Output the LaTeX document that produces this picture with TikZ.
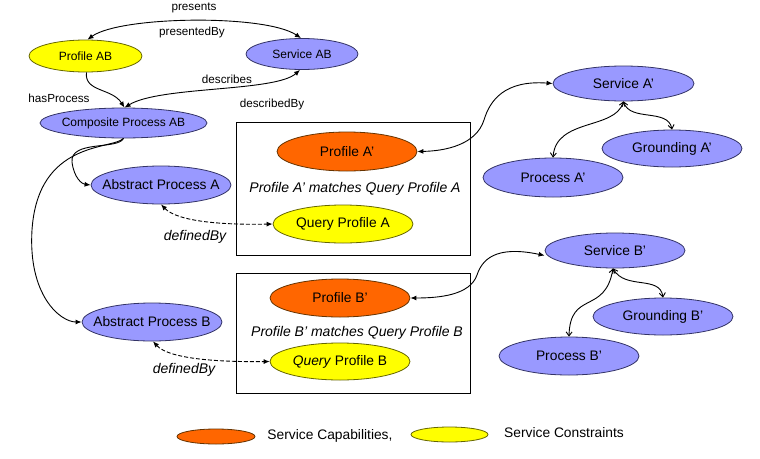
\documentclass[tikz,border=0pt]{standalone}
\usepackage{fontspec}
\setmainfont{Liberation Sans}
\usetikzlibrary{shapes.geometric,arrows.meta}
\definecolor{lav}{HTML}{9999FF}
\definecolor{lavd}{HTML}{333366}
\definecolor{yel}{HTML}{FFFF00}
\definecolor{yeld}{HTML}{666600}
\definecolor{org}{HTML}{FF6600}
\definecolor{orgd}{HTML}{663300}
\newcommand\mkt[1]{\makebox[0pt]{#1}}
\tikzset{
  el/.style={ellipse,inner sep=0pt,minimum width=140pt,minimum height=38pt,font=\fontsize{13.8}{15}\selectfont},
  blue/.style={el,fill=lav,draw=lavd,line width=0.8pt},
  yellow/.style={el,fill=yel,draw=yeld,line width=0.8pt},
  orange/.style={el,fill=org,draw=orgd,line width=0.8pt},
  small/.style={font=\fontsize{12}{14}\selectfont},
  lbl/.style={font=\fontsize{11.7}{13}\selectfont,inner sep=0pt},
  ilbl/.style={font=\fontsize{14}{16}\selectfont\itshape,inner sep=0pt},
  conn/.style={line width=0.9pt,{Latex[length=6pt,width=5pt]}-{Latex[length=6pt,width=5pt]}},
  oneway/.style={line width=0.9pt,-{Latex[length=6pt,width=5pt]}},
  openconn/.style={line width=0.9pt,{Straight Barb[length=4pt,width=6pt]}-{Straight Barb[length=4pt,width=6pt]}},
  dashconn/.style={conn,dashed,dash pattern=on 4pt off 2pt},
  frame/.style={draw,line width=0.8pt}
}
\begin{document}
\begin{tikzpicture}[x=1pt,y=-1pt]
\useasboundingbox (0,0) rectangle (760,458);
% frames
\node[frame,minimum width=234pt,minimum height=133pt,inner sep=0pt] (boxa) at (353,188.5) {};
\node[frame,minimum width=234pt,minimum height=120pt,inner sep=0pt] (boxb) at (353,333) {};
% top-left nodes
\node[yellow,small,minimum width=113pt,minimum height=32pt] (pab) at (85.5,56) {\mkt{Profile AB}};
\node[blue,small,minimum width=112pt,minimum height=31pt] (sab) at (302,54) {\mkt{Service AB}};
\node[blue,small,minimum width=167pt,minimum height=30pt] (cpab) at (123.5,123) {\mkt{Composite Process AB}};
\node[blue] (apa) at (161,185) {\mkt{Abstract Process A}};
\node[blue] (apb) at (152,322) {\mkt{Abstract Process B}};
% box A
\node[orange,minimum height=39pt] (pap) at (347,151.5) {\mkt{Profile A’}};
\node[ilbl] (ma) at (355,189) {Profile A’ matches Query Profile A};
\node[yellow] (qpa) at (343,224) {\mkt{Query Profile A}};
% box B
\node[orange] (pbp) at (340,298) {\mkt{Profile B’}};
\node[ilbl] (mb) at (357,333) {Profile B’ matches Query Profile B};
\node[yellow,minimum height=37pt] (qpb) at (340,361.5) {\mkt{\textit{Query} Profile B}};
% right side
\node[blue,minimum width=141pt,minimum height=35pt] (sap) at (623.5,83.5) {\mkt{Service A’}};
\node[blue,minimum height=37pt] (gap) at (672,148.5) {\mkt{Grounding A’}};
\node[blue,minimum height=39pt] (prap) at (553,177.5) {\mkt{Process A’}};
\node[blue,minimum height=35pt] (sbp) at (615,250.5) {\mkt{Service B’}};
\node[blue,minimum height=37pt] (gbp) at (663,316.5) {\mkt{Grounding B’}};
\node[blue] (prbp) at (569,356) {\mkt{Process B’}};
% labels
\node[lbl] (lpres) at (194,8) {presents};
\node[lbl] (lpresby) at (192,32) {presentedBy};
\node[lbl] (ldesc) at (227,79) {describes};
\node[lbl] (ldescby) at (272,104) {describedBy};
\node[lbl] (lhas) at (59,98) {hasProcess};
\node[ilbl] (ldefa) at (195,237) {definedBy};
\node[ilbl] (ldefb) at (184,370) {definedBy};
% legend
\node[orange,minimum width=78pt,minimum height=15pt] (lgo) at (216,436.5) {};
\node[font=\fontsize{13.8}{15}\selectfont,inner sep=0pt] (lgot) at (330,436) {Service Capabilities,};
\node[yellow,minimum width=77pt,minimum height=15pt] (lgy) at (449.5,434.5) {};
\node[font=\fontsize{13.8}{15}\selectfont,inner sep=0pt] (lgyt) at (564,433) {Service Constraints};
% connectors top-left
\draw[conn] ([xshift=2pt]pab.north) .. controls (120,16) and (265,14) .. ([xshift=-1pt]sab.north);
\draw[conn] ([xshift=-2pt]sab.south) .. controls (275,92) and (160,86) .. ([xshift=1pt]cpab.north);
\draw[oneway] ([xshift=1pt]pab.south) .. controls (84,92) and (112,88) .. ([xshift=1pt]cpab.north);
\draw[oneway] (cpab.south) .. controls (118,150) and (70,140) .. (72,162) .. controls (74,178) and (82,184) .. (apa.west);
\draw[oneway] (cpab.south) .. controls (112,150) and (38,140) .. (32,230) .. controls (28,295) and (60,322) .. (apb.west);
\draw[dashconn] (apa.south) .. controls (178,222) and (225,225) .. (qpa.west);
\draw[dashconn] ([xshift=1pt]apb.south) .. controls (170,360) and (225,362) .. (qpb.west);
% right side connectors
\draw[conn] (sap.west) .. controls (505,80) and (490,100) .. (484,120) .. controls (476,145) and (445,151) .. (pap.east);
\draw[conn] ([yshift=-5pt]sbp.west) .. controls (495,245) and (482,260) .. (477,275) .. controls (470,295) and (440,298) .. (pbp.east);
\draw[openconn] (sap.south) .. controls (615,130) and (556,118) .. (prap.north);
\draw[openconn] (sap.south) .. controls (630,122) and (668,108) .. (gap.north);
\draw[openconn] ([xshift=-2pt]sbp.south) .. controls (605,315) and (570,290) .. (prbp.north);
\draw[openconn] ([xshift=-2pt]sbp.south) .. controls (625,290) and (660,275) .. (gbp.north);
\end{tikzpicture}
\end{document}
